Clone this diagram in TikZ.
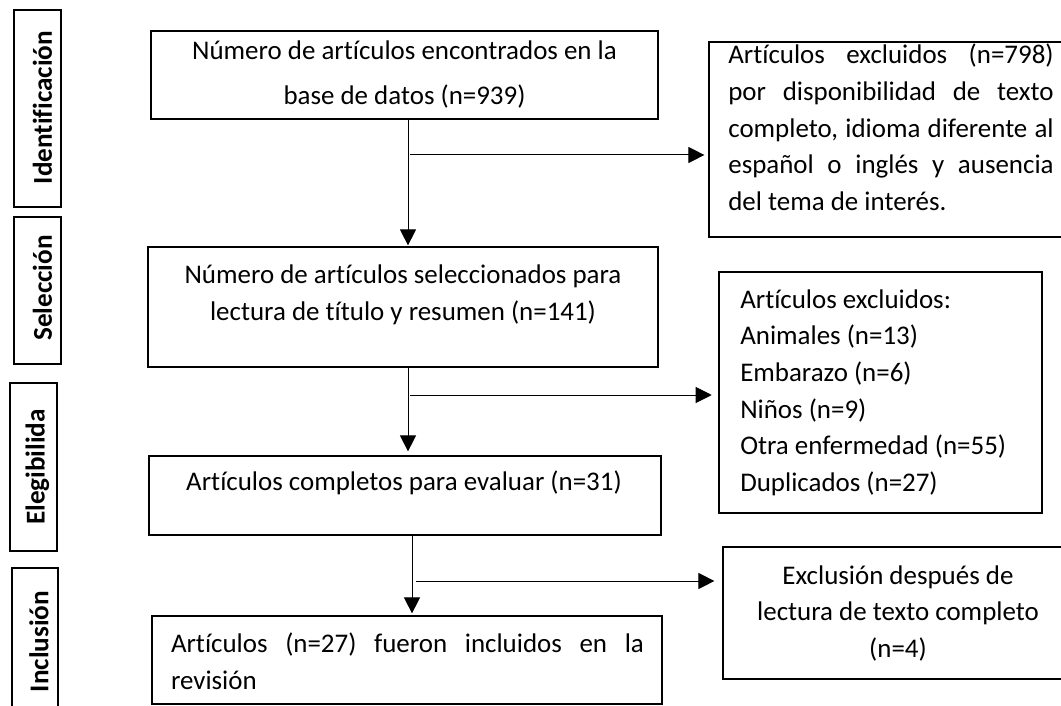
\documentclass[tikz,border=0pt]{standalone}
\usepackage{fontspec}
\setmainfont{Carlito}[Ligatures=NoCommon]
\usetikzlibrary{arrows.meta,fit,calc}
\newcommand{\nsp}{\spaceskip=0pt\relax\xspaceskip=0pt\relax}
\newcommand{\jline}[2]{\makebox[#1][s]{\nsp #2}}
\begin{document}
\begin{tikzpicture}[x=0.75pt,y=-0.75pt,
  box/.style={draw=black,line width=0.9pt,inner sep=0pt},
  txt/.style={font=\fontsize{20.2}{27.5}\selectfont,align=center,inner sep=0pt},
  lab/.style={font=\fontsize{20.4}{24}\selectfont\bfseries,rotate=90,inner sep=0pt},
  arr/.style={line width=0.75pt,-{Triangle[length=12pt,width=12pt]}}]
\useasboundingbox (0,0) rectangle (1061,706);
\fill[white] (0,0) rectangle (1061,706);

% side labels
\node[box,fit={(14,10) (61,207)}] (L1) {};
\node[lab] (t1) at (42.5,107.5) {Identificación};
\node[box,fit={(14,217) (61,364)}] (L2) {};
\node[lab] (t2) at (42.5,288) {Selección};
\node[box,fit={(10,383) (57,551)}] (L3) {};
\node[lab] (t3) at (37.5,467) {Elegibilida};
\node[box,fit={(12,568) (58,720)}] (L4) {};
\node[lab] (t4) at (39,641.5) {Inclusión};

% main boxes
\node[box,fit={(151,31) (658,119)}] (A) {};
\node[txt,font=\fontsize{20.2}{33.75}\selectfont] (tA) at (404.5,74.5) {\nsp Número de artículos encontrados en la\\base de datos (n=939)};
\node[box,fit={(148,247) (658,367)}] (B) {};
\node[txt] (tB) at (403,295) {\nsp Número de artículos seleccionados para\\lectura de título y resumen (n=141)};
\node[box,fit={(149,456) (661,535)}] (C) {};
\node[txt] (tC) at (404,483) {\nsp Artículos completos para evaluar (n=31)};
\node[box,fit={(152,616) (662,704)}] (D) {};
\node[txt,align=left,text width=354.75pt] (tD) at (407.5,661.5) {\jline{354.75pt}{Artículos (n=27) fueron incluidos en la}\\revisión};

% right boxes
\node[box,fit={(709,42) (1064,237)}] (R1) {};
\node[txt,align=left,text width=244pt] (tR1) at (891,127.5) {\nsp\jline{244pt}{Artículos excluidos (n=798)}\\\jline{244pt}{por disponibilidad de texto}\\\jline{244pt}{completo, idioma diferente al}\\\jline{244pt}{español o inglés y ausencia}\\del tema de interés.};
\node[box,fit={(719,272) (1042,513)}] (R2) {};
\node[txt,align=left,anchor=west] (tR2) at (740,392.5) {\nsp Artículos excluidos:\\Animales (n=13)\\Embarazo (n=6)\\Niños (n=9)\\Otra enfermedad (n=55)\\Duplicados (n=27)};
\node[box,fit={(723,547) (1064,679)}] (R3) {};
\node[txt] (tR3) at (898,613.5) {\nsp Exclusión después de\\lectura de texto completo\\(n=4)};

% connectors
\coordinate (x1) at (408,0);
\coordinate (x2) at (412,0);
\coordinate (j1) at (410,155);
\coordinate (j2) at (410,395);
\coordinate (j3) at (416,581);
\draw[arr,shorten >=0.75pt] (A.south -| x1) -- (B.north -| x1);
\draw[arr,shorten >=3pt] (B.south -| x1) -- (C.north -| x1);
\draw[arr,shorten >=1.5pt] (C.south -| x2) -- (D.north -| x2);
\draw[arr,shorten >=3pt] (j1) -- (j1 -| R1.west);
\draw[arr,shorten >=5pt] (j2) -- (j2 -| R2.west);
\draw[arr,shorten >=6pt] (j3) -- (j3 -| R3.west);
\end{tikzpicture}
\end{document}
